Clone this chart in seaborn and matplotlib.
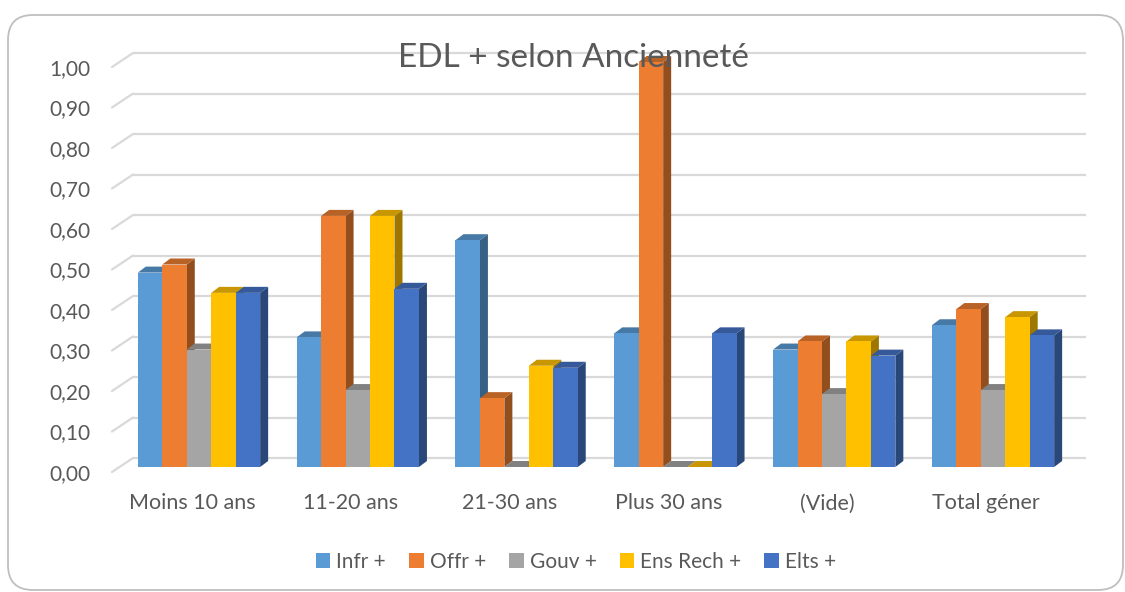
import matplotlib

matplotlib.use("Agg")

import matplotlib.pyplot as plt
import matplotlib.transforms as mtransforms
import numpy as np
import pandas as pd
import seaborn as sns
from matplotlib.colors import to_rgb
from matplotlib.patches import FancyBboxPatch, Patch, Polygon

categories = ["Moins 10 ans", "11-20 ans", "21-30 ans", "Plus 30 ans", "(Vide)", "Total géner"]
series = ["Infr +", "Offr +", "Gouv +", "Ens Rech +", "Elts +"]
infr = [0.48, 0.32, 0.56, 0.33, 0.29, 0.35]
offr = [0.50, 0.62, 0.17, 1.00, 0.31, 0.39]
gouv = [0.29, 0.19, 0.00, 0.00, 0.18, 0.19]
ens_rech = [0.43, 0.62, 0.25, 0.00, 0.31, 0.37]
elts = [0.43, 0.44, 0.245, 0.33, 0.275, 0.325]
yticks = [0.0, 0.1, 0.2, 0.3, 0.4, 0.5, 0.6, 0.7, 0.8, 0.9, 1.0]
colors = ["#5B9BD5", "#ED7D31", "#A5A5A5", "#FFC000", "#4472C4"]
text_color = "#595959"
grid_color = "#D9D9D9"

sns.set_style("white")
plt.rcParams["font.family"] = ["Lato", "DejaVu Sans"]

df = pd.DataFrame({
    "category": categories * len(series),
    "series": np.repeat(series, len(categories)),
    "value": infr + offr + gouv + ens_rech + elts,
})

W, H = 1125, 592
fig = plt.figure(figsize=(W / 100, H / 100), dpi=100)
# bar front plane: x -0.5..5.5 -> 119.6..1072.4 px, y 0..1 -> 467..62 px (from top)
ax = fig.add_axes([119.6 / W, (H - 467) / H, 952.8 / W, 405 / H])

sns.barplot(
    data=df, x="category", y="value", hue="series",
    order=categories, hue_order=series, palette=colors,
    width=0.77, saturation=1, linewidth=0, errorbar=None,
    legend=False, ax=ax,
)
ax.set_xlim(-0.5, 5.5)
ax.set_ylim(0, 1)

# pixel -> data unit helpers
px_x = 952.8 / 6
px_y = 405.0

# pseudo-3D faces for each bar
dxd, dyd = 8 / px_x, 6 / px_y
for j, cont in enumerate(ax.containers):
    base = np.array(to_rgb(colors[j]))
    side_c = base * 0.62
    top_c = base * 0.78
    for bar in cont:
        x, w, h = bar.get_x(), bar.get_width(), bar.get_height()
        bar.set_zorder(3 + 2 * j)
        side = Polygon(
            [(x + w, 0), (x + w + dxd, dyd), (x + w + dxd, h + dyd), (x + w, h)],
            closed=True, facecolor=side_c, edgecolor="none",
            zorder=2 + 2 * j, clip_on=False,
        )
        top = Polygon(
            [(x, h), (x + dxd, h + dyd), (x + w + dxd, h + dyd), (x + w, h)],
            closed=True, facecolor=top_c, edgecolor="none",
            zorder=2 + 2 * j, clip_on=False,
        )
        ax.add_patch(side)
        ax.add_patch(top)

# back wall gridlines with floor diagonals
fx, fy = -7.6 / px_x, -5 / px_y
bx, by = 13.4 / px_x, 9 / px_y
for t in yticks:
    ax.plot([-0.5 + bx, 5.5 + bx], [t + by, t + by], color=grid_color,
            lw=1.6, zorder=0, clip_on=False, solid_capstyle="butt")
    ax.plot([-0.5 + fx, -0.5 + bx], [t + fy, t + by], color=grid_color,
            lw=1.6, zorder=0, clip_on=False)

ax.set_yticks(yticks)
ax.set_yticklabels([f"{t:.2f}".replace(".", ",") for t in yticks])
ax.tick_params(axis="y", length=0, pad=21, labelsize=15, labelcolor=text_color)
ax.tick_params(axis="x", length=0, pad=19, labelsize=15.5, labelcolor=text_color)
ax.set_xlabel("")
ax.set_ylabel("")
for lbl in ax.get_yticklabels():
    lbl.set_transform(lbl.get_transform() + mtransforms.ScaledTranslation(0, -0.05, fig.dpi_scale_trans))
for lbl in ax.get_xticklabels():
    lbl.set_transform(lbl.get_transform() + mtransforms.ScaledTranslation(-0.07, 0, fig.dpi_scale_trans))
sns.despine(ax=ax, left=True, bottom=True)
ax.grid(False)

fig.text(573 / W, 1 - 58 / H, "EDL + selon Ancienneté", ha="center", va="center",
         fontsize=24, color=text_color, zorder=10)

handles = [Patch(facecolor=c, edgecolor="none") for c in colors]
fig.legend(handles, series, loc="center", bbox_to_anchor=(576 / W, 1 - 562 / H),
           ncol=5, frameon=False, fontsize=15, labelcolor=text_color,
           handlelength=0.7, handleheight=0.7, handletextpad=0.3, columnspacing=1.1)

border = FancyBboxPatch((0.08, 0.02), 11.15, 5.75,
                        boxstyle="round,pad=0,rounding_size=0.25",
                        transform=fig.dpi_scale_trans, facecolor="none",
                        edgecolor="#BFBFBF", lw=1.3)
fig.add_artist(border)

fig.savefig("out.png", dpi=100)
plt.close(fig)
